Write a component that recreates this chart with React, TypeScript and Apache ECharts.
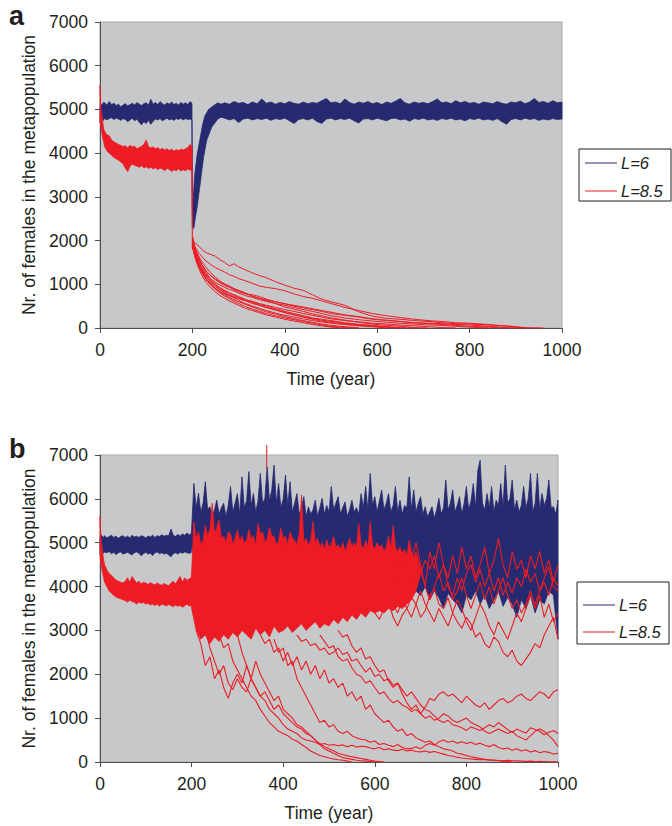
import React, { useEffect, useRef } from 'react';
import * as echarts from 'echarts';

const NAVY = '#262a70';
const RED = '#ed1c24';
const BG = '#c7c8ca';
const FONT = "'Liberation Sans', Arial, sans-serif";
const TXT = '#231f20';

// ---------- shared sample years ----------
const PRE_YEARS = [0, 2, 5, 8, 10, 15, 20, 25, 30, 35, 40, 45, 50, 55, 60, 65, 70, 75, 80, 85, 90, 95, 100, 105, 110, 115, 120, 125, 130, 135, 140, 145, 150, 155, 160, 165, 170, 175, 180, 185, 190, 195, 199];
const X_TICKS = [0, 200, 400, 600, 800, 1000];
const Y_TICKS = [0, 1000, 2000, 3000, 4000, 5000, 6000, 7000];

// ---------- panel a : L=6 (envelope of runs) ----------
const BLUE_A_PRE_UP = [5050, 5100, 5120, 5160, 5150, 5100, 5180, 5110, 5140, 5090, 5120, 5060, 5100, 5130, 5080, 5110, 5140, 5100, 5160, 5120, 5090, 5130, 5150, 5100, 5230, 5120, 5160, 5110, 5180, 5130, 5100, 5150, 5120, 5170, 5110, 5140, 5100, 5160, 5120, 5150, 5110, 5180, 5140];
const BLUE_A_PRE_LOW = [4700, 4760, 4780, 4750, 4800, 4760, 4790, 4810, 4770, 4800, 4780, 4750, 4790, 4770, 4720, 4760, 4800, 4740, 4780, 4700, 4650, 4720, 4680, 4750, 4660, 4730, 4780, 4760, 4790, 4740, 4770, 4800, 4760, 4780, 4750, 4790, 4770, 4800, 4760, 4790, 4770, 4780, 4760];
const BLUE_A_DIP_UP = [[200, 2600], [202, 3000], [205, 3500], [210, 3950], [216, 4300], [222, 4650], [227, 4850], [235, 5000], [245, 5080], [255, 5150], [262, 5120]];
const BLUE_A_DIP_LOW = [[200, 2310], [203, 2280], [206, 2500], [210, 2750], [216, 3230], [224, 3900], [231, 4300], [242, 4600], [255, 4780], [262, 4820]];
const BLUE_A_POST_UP = [
  5150, 5120, 5180, 5140, 5160, 5110, 5170, 5130, 5240, 5140,
  5170, 5120, 5160, 5130, 5180, 5140, 5120, 5170, 5130, 5160,
  5140, 5200, 5250, 5150, 5170, 5130, 5240, 5160, 5120, 5170,
  5140, 5180, 5130, 5160, 5110, 5170, 5140, 5190, 5250, 5150,
  5120, 5170, 5140, 5160, 5130, 5180, 5240, 5150, 5170, 5130,
  5200, 5150, 5180, 5140, 5160, 5120, 5170, 5150, 5130, 5180,
  5140, 5120, 5170, 5150, 5190, 5130, 5170, 5250, 5160, 5180,
  5140, 5200, 5150, 5170];
const BLUE_A_POST_LOW = [
  4800, 4760, 4790, 4700, 4780, 4800, 4760, 4790, 4770, 4800,
  4750, 4790, 4770, 4800, 4740, 4680, 4770, 4790, 4760, 4800,
  4720, 4680, 4780, 4800, 4760, 4790, 4770, 4800, 4740, 4690,
  4780, 4790, 4760, 4800, 4770, 4740, 4790, 4800, 4760, 4780,
  4730, 4790, 4770, 4800, 4760, 4780, 4750, 4790, 4770, 4800,
  4760, 4780, 4740, 4790, 4770, 4800, 4760, 4780, 4750, 4790,
  4720, 4660, 4770, 4790, 4760, 4800, 4770, 4790, 4750, 4780,
  4760, 4790, 4770, 4780];

// ---------- panel a : L=8.5 ----------
const RED_A_PRE_UP = [5550, 5000, 4800, 4550, 4500, 4420, 4400, 4300, 4260, 4230, 4200, 4180, 4150, 4170, 4120, 4180, 4140, 4160, 4100, 4130, 4160, 4200, 4300, 4150, 4120, 4140, 4100, 4130, 4080, 4110, 4070, 4100, 4060, 4090, 4050, 4080, 4060, 4090, 4070, 4100, 4130, 4200, 4150];
const RED_A_PRE_LOW = [4750, 4600, 4400, 4250, 4150, 4050, 4000, 3950, 3900, 3870, 3840, 3800, 3750, 3650, 3580, 3700, 3750, 3720, 3700, 3680, 3710, 3660, 3690, 3650, 3680, 3640, 3670, 3620, 3660, 3640, 3600, 3650, 3630, 3580, 3620, 3600, 3640, 3590, 3620, 3600, 3640, 3610, 3620];
const RED_A_DROP = [200, 2100, 1800]; // year, top, bottom of the collapse at year 200
const RA_YEARS = [200, 203, 206, 210, 215, 220, 225, 230, 240, 250, 260, 270, 280, 290, 300, 315, 330, 345, 360, 380, 400, 420, 440, 460, 480, 500, 530, 560, 590, 620, 650, 680, 710, 740, 770, 800, 840, 880, 920, 960, 1000];
const RED_A_RUNS = [
  [2050, 1980, 1950, 1900, 1860, 1800, 1760, 1720, 1680, 1640, 1560, 1500, 1420, 1470, 1400, 1330, 1260, 1200, 1150, 1060, 980, 910, 860, 760, 660, 600, 520, 370, 270, 220, 200, 170, 150, 120, 100, 90, 70, 50, 10, 0],
  [2000, 1900, 1850, 1780, 1700, 1640, 1580, 1530, 1450, 1380, 1330, 1280, 1220, 1180, 1130, 1080, 1020, 960, 930, 900, 850, 780, 720, 680, 620, 560, 470, 400, 330, 280, 240, 200, 170, 150, 120, 110, 80, 40, 0],
  [1950, 1850, 1750, 1650, 1550, 1450, 1380, 1300, 1200, 1120, 1050, 1000, 960, 900, 860, 800, 720, 680, 620, 560, 480, 430, 380, 320, 280, 230, 180, 130, 90, 60, 40, 10, 0],
  [2100, 1950, 1800, 1650, 1500, 1380, 1290, 1210, 1080, 990, 920, 860, 800, 760, 720, 650, 600, 540, 500, 440, 380, 330, 280, 230, 200, 170, 120, 80, 50, 20, 0],
  [1900, 1780, 1660, 1540, 1400, 1300, 1200, 1120, 1000, 900, 820, 760, 700, 650, 600, 540, 480, 420, 370, 320, 260, 210, 170, 130, 90, 60, 30, 0],
  [2000, 1880, 1760, 1620, 1480, 1370, 1290, 1220, 1120, 1040, 980, 930, 880, 850, 800, 740, 700, 650, 610, 560, 520, 470, 420, 380, 330, 280, 230, 190, 160, 130, 110, 90, 70, 60, 40, 20, 0],
  [1850, 1720, 1600, 1470, 1330, 1220, 1120, 1040, 920, 820, 740, 680, 620, 570, 520, 450, 400, 350, 300, 250, 200, 160, 120, 80, 50, 20, 0],
  [2050, 1920, 1800, 1680, 1560, 1460, 1370, 1300, 1190, 1100, 1030, 970, 930, 880, 830, 780, 760, 720, 660, 600, 560, 500, 460, 420, 380, 330, 290, 250, 200, 170, 150, 120, 110, 100, 80, 70, 40, 10, 0],
  [1950, 1800, 1680, 1560, 1430, 1330, 1240, 1160, 1050, 960, 880, 820, 760, 720, 670, 620, 560, 520, 470, 420, 360, 300, 260, 220, 180, 150, 110, 80, 60, 30, 10, 0],
  [1880, 1740, 1620, 1500, 1380, 1280, 1190, 1100, 980, 880, 800, 730, 670, 610, 560, 490, 430, 380, 330, 280, 230, 190, 150, 110, 70, 40, 10, 0],
  [2000, 1900, 1820, 1720, 1620, 1530, 1450, 1380, 1260, 1160, 1070, 1010, 950, 900, 860, 790, 730, 680, 640, 600, 550, 520, 480, 440, 400, 360, 300, 260, 210, 180, 150, 120, 100, 80, 60, 40, 20, 0],
  [1950, 1820, 1700, 1580, 1450, 1340, 1250, 1170, 1040, 940, 870, 800, 740, 690, 630, 560, 500, 450, 400, 340, 290, 250, 210, 170, 140, 110, 80, 50, 30, 0],
  [1900, 1760, 1640, 1520, 1400, 1290, 1200, 1120, 1000, 900, 830, 780, 740, 700, 680, 640, 610, 560, 520, 470, 420, 380, 330, 290, 250, 210, 170, 140, 110, 90, 70, 50, 30, 10, 0],
  [2080, 1950, 1830, 1700, 1570, 1450, 1340, 1260, 1120, 1000, 910, 850, 800, 750, 700, 650, 580, 520, 470, 410, 350, 300, 250, 200, 160, 130, 90, 60, 40, 20, 0],
];

// ---------- panel b : L=6 ----------
const BLUE_B_PRE_UP = [5100, 5180, 5150, 5120, 5160, 5110, 5140, 5170, 5120, 5150, 5100, 5140, 5160, 5120, 5150, 5110, 5170, 5130, 5150, 5120, 5160, 5140, 5110, 5150, 5130, 5170, 5120, 5160, 5140, 5180, 5150, 5170, 5160, 5310, 5170, 5140, 5190, 5150, 5200, 5170, 5220, 5180, 5200];
const BLUE_B_PRE_LOW = [4750, 4800, 4780, 4760, 4790, 4770, 4800, 4750, 4780, 4730, 4770, 4790, 4740, 4760, 4780, 4750, 4720, 4770, 4790, 4760, 4700, 4750, 4780, 4740, 4760, 4710, 4770, 4790, 4750, 4770, 4740, 4760, 4720, 4680, 4750, 4770, 4740, 4780, 4760, 4790, 4770, 4760, 4770];
const BLUE_B_POST_UP = [ // 200..1000 every 5 years
  5300, 6350, 5800, 6130, 5700, 5900, 6390, 5750, 5820, 5600,
  5750, 5970, 5650, 5800, 5900, 5600, 5850, 6280, 5700, 5900,
  6120, 5650, 6500, 5800, 5950, 6620, 5850, 6120, 5700, 5950,
  6580, 5900, 6000, 6730, 5950, 6200, 6770, 5900, 6350, 5800,
  6000, 6540, 5850, 6390, 5700, 5900, 6120, 5650, 5800, 6050,
  5600, 5820, 5650, 5750, 5970, 5600, 5800, 6010, 5650, 5850,
  5700, 6280, 5750, 5900, 6050, 5650, 5800, 5930, 5600, 5750,
  5970, 5700, 5800, 5650, 6120, 5800, 6280, 5750, 6580, 5850,
  6050, 5700, 5950, 6200, 5750, 5900, 6120, 5700, 5850, 6280,
  5700, 5970, 5650, 5850, 5800, 6500, 5750, 6200, 5700, 5900,
  6050, 5650, 5820, 5600, 5700, 5820, 5550, 5750, 6010, 5650,
  5800, 6430, 5750, 5900, 6200, 5700, 5850, 6050, 5650, 5900,
  6280, 5750, 5950, 6350, 5800, 6650, 6880, 5900, 5750, 6120,
  5800, 6280, 5700, 5970, 5850, 6350, 5800, 6770, 5900, 6000,
  6430, 5750, 5970, 5700, 5850, 6280, 5800, 6000, 6580, 5700,
  5900, 6580, 5750, 6120, 5850, 6000, 6430, 5800, 5820, 5650,
  5970];
const BLUE_B_POST_LOW = [ // 200..1000 every 10 years
  4900, 4500, 4300, 4400, 4200, 4350, 4300, 4250, 4400, 4300,
  4350, 4250, 4400, 4300, 4200, 4350, 4300, 4400, 4250, 4300,
  4350, 4300, 4200, 4350, 4300, 4250, 4400, 4300, 4350, 4250,
  4300, 4350, 4200, 4300, 4250, 4350, 4150, 4300, 4200, 4250,
  4100, 4200, 4050, 4150, 4000, 4100, 3950, 4050, 4100, 3900,
  3800, 4000, 3700, 3900, 3750, 3500, 3850, 3700, 3600, 3400,
  3800, 3700, 3900, 3600, 3800, 3500, 3700, 3900, 3550, 3750,
  3600, 3300, 3700, 3500, 3800, 3400, 3700, 3600, 3900, 3800,
  2800];

// ---------- panel b : L=8.5 ----------
const RED_B_PRE_UP = [5600, 5100, 4850, 4600, 4500, 4380, 4300, 4250, 4200, 4150, 4120, 4100, 4080, 4120, 4200, 4100, 4230, 4150, 4080, 4120, 4060, 4100, 4080, 4050, 4090, 4060, 4040, 4080, 4050, 4030, 4070, 4040, 4020, 4080, 4120, 4060, 4150, 4230, 4100, 4200, 4140, 4180, 4200];
const RED_B_PRE_LOW = [4700, 4550, 4350, 4200, 4100, 4000, 3900, 3850, 3800, 3760, 3740, 3720, 3700, 3680, 3650, 3690, 3660, 3640, 3600, 3650, 3620, 3640, 3600, 3620, 3580, 3600, 3570, 3600, 3550, 3600, 3580, 3560, 3590, 3570, 3540, 3580, 3550, 3570, 3530, 3560, 3600, 3550, 3580];
const RED_B_MASS_UP = [ // 200..700 every 5 years, top of the dense bundle of runs
  4300, 5480, 5100, 5250, 4950, 5050, 5400, 5150, 5300, 5900,
  5200, 5350, 5520, 5100, 5150, 5000, 5250, 5200, 4950, 5100,
  5290, 5050, 5150, 5000, 5050, 5300, 5100, 5150, 4950, 5440,
  5200, 5250, 5000, 5100, 5350, 5150, 5150, 4950, 5050, 5330,
  5100, 5150, 4950, 5250, 5100, 5050, 4950, 5200, 6090, 5000,
  5100, 4950, 5050, 5480, 5000, 5100, 4900, 5000, 4850, 5060,
  4900, 4950, 5140, 4900, 4950, 4850, 5000, 4800, 4950, 5100,
  4900, 5000, 4900, 5440, 4950, 4850, 5050, 4900, 5480, 4950,
  4850, 5000, 4900, 4950, 4800, 4900, 5150, 4850, 5400, 4900,
  4800, 4900, 4750, 4850, 4700, 5060, 4800, 4650, 4800, 4600,
  4400];
const RED_B_MASS_LOW = [ // 200..700 every 10 years, bottom of the dense bundle
  3500, 3000, 2800, 2900, 2700, 2850, 2750, 2900, 2800, 2950,
  2850, 3000, 2900, 2800, 3050, 2900, 3000, 2850, 3100, 2950,
  3000, 3100, 2950, 3050, 3150, 3000, 3100, 3200, 3050, 3150,
  3100, 3250, 3150, 3300, 3200, 3350, 3250, 3400, 3300, 3450,
  3400, 3450, 3400, 3500, 3450, 3550, 3500, 3600, 3700, 3900,
  4300];
// individual runs leaving the bundle, sampled every 10 years from "start"
const RED_B_RUNS = [
  { start: 620, vals: [4300, 4500, 4100, 4400, 4700, 4200, 4500, 4000, 4300, 4600, 4400, 4700, 4200, 4500, 4000, 3800, 4200, 3900, 4300, 4500, 4100, 4400, 4000, 4300, 3900, 4200, 3800, 4100, 3850, 4200, 4000, 4400, 4100, 4300, 3900, 4200, 4450, 4000, 3900] },
  { start: 650, vals: [4400, 4800, 4300, 4600, 5000, 4500, 4000, 4800, 4400, 5000, 4500, 4200, 4700, 4300, 4900, 4400, 4700, 4200, 4500, 4900, 4300, 4600, 5100, 4500, 4200, 4800, 4400, 4600, 4200, 4700, 4400, 4800, 4300, 4600, 4100, 4500] },
  { start: 560, vals: [3800, 3600, 4000, 3700, 3500, 3900, 4200, 3800, 3600, 3400, 3700, 3500, 3300, 3600, 3900, 3600, 3400, 3200, 3500, 3300, 3100, 3400, 3700, 3500, 3200, 3000, 3300, 3600, 3400, 3100, 2900, 3200, 3000, 2800, 3100, 3400, 3200, 3500, 3800, 3600, 3900, 4100, 3800, 4200, 4000] },
  { start: 640, vals: [4000, 4300, 3900, 4200, 3800, 4100, 4400, 4000, 3700, 4000, 4300, 3900, 4100, 3700, 3900, 4200, 3800, 3500, 3800, 4100, 3700, 4000, 3600, 3900, 4200, 3800, 3500, 3700, 3400, 3600, 3900, 3500, 3800, 3300, 3600, 3200, 3400] },
  { start: 600, vals: [3400, 3250, 3500, 3650, 3300, 3100, 3350, 3500, 3750, 3600, 3300, 3450, 3800, 3950, 3600, 3500, 3750, 3400, 3200, 3050, 3300, 3150, 2850, 2950, 2700, 2600, 2850, 2750, 2500, 2400, 2550, 2300, 2200, 2350, 2500, 2700, 2600, 2900, 3100, 3300, 2800] },
  { start: 520, vals: [3000, 2850, 2900, 2650, 2500, 2600, 2350, 2400, 2200, 2050, 2100, 1850, 1700, 1800, 1550, 1350, 1200, 1300, 1100, 1250, 1450, 1400, 1550, 1600, 1500, 1550, 1450, 1350, 1500, 1400, 1300, 1250, 1350, 1200, 1300, 1400, 1450, 1350, 1400, 1500, 1550, 1450, 1400, 1500, 1600, 1550, 1450, 1600, 1650] },
  { start: 480, vals: [2900, 2750, 2600, 2650, 2400, 2300, 2350, 2150, 2000, 1950, 1800, 1850, 1700, 1550, 1600, 1450, 1350, 1400, 1300, 1250, 1150, 1200, 1100, 1000, 1050, 950, 1000, 1100, 1050, 950, 900, 950, 1000, 900, 850, 800, 700, 650, 700, 750, 700, 650, 700, 600, 550, 500, 600, 700, 750, 700, 600, 500, 350] },
  { start: 380, vals: [2800, 2500, 2600, 2200, 2300, 1900, 1700, 1500, 1300, 1100, 900, 950, 800, 850, 700, 650, 700, 600, 550, 520, 500, 450, 480, 400, 420, 380, 350, 400, 330, 300, 310, 350, 300, 380, 420, 380, 460, 500, 450, 480, 430, 460, 420, 450, 400, 430, 380, 350, 400, 330, 300, 320, 270, 300, 250, 280, 230, 260, 210, 240, 220, 180, 200] },
  { start: 300, vals: [2900, 2500, 2200, 1900, 1700, 1500, 1400, 1200, 1100, 1000, 850, 750, 700, 650, 550, 500, 480, 450, 400, 420, 380, 400, 370, 390, 350, 380, 340, 360, 350, 320, 300, 330, 280, 300, 270, 260, 290, 250, 270, 240, 230, 250, 220, 240, 210, 180, 150, 130, 110, 90, 80, 70, 60, 50, 60, 40, 45, 35, 30, 40, 30, 25, 20, 15, 20, 10, 15, 10, 5, 5, 0] },
  { start: 260, vals: [2900, 2600, 2700, 2300, 2100, 1900, 1700, 1500, 1400, 1200, 1050, 900, 800, 700, 650, 600, 520, 480, 400, 330, 250, 200, 150, 120, 90, 70, 50, 40, 20, 0] },
  { start: 210, vals: [3000, 2700, 2200, 2400, 1900, 2100, 1700, 1450, 1800, 2000, 1800, 2200, 1900, 2300, 2000, 1800, 1600, 1400, 1500, 1200, 1100, 1000, 850, 800, 700, 600, 500, 400, 300, 250, 200, 150, 100, 80, 60, 40, 30, 20, 10, 0] },
  { start: 230, vals: [3000, 2600, 2300, 2000, 2200, 1800, 1650, 1900, 1700, 1600, 1900, 1700, 1500, 1600, 1400, 1200, 1300, 1100, 1000, 900, 800, 750, 650, 600, 500, 420, 350, 300, 250, 200, 170, 140, 120, 100, 80, 60, 40, 20, 10, 0] },
  { start: 350, vals: [2900, 2700, 2800, 2500, 2600, 2300, 2500, 2200, 2400, 2100, 2300, 2000, 2200, 1900, 2100, 1800, 1900, 1700, 1800, 1500, 1600, 1400, 1500, 1200, 1300, 1100, 1000, 900, 950, 800, 700, 750, 600, 650, 550, 500, 450, 480, 400, 350, 300, 280, 250, 200, 180, 150, 120, 100, 80, 60, 50, 40, 30, 20, 10, 0] },
  { start: 430, vals: [2900, 2750, 2800, 2650, 2700, 2550, 2600, 2450, 2500, 2600, 2450, 2500, 2300, 2350, 2200, 2050, 2150, 1950, 2000, 1850, 1900, 1750, 1800, 1650, 1500, 1600, 1450, 1300, 1200, 1150, 1050, 950, 900, 950, 850, 820, 780, 720, 800, 760, 720, 780, 850, 800, 900, 820, 740, 680, 750, 700, 660, 780, 740, 700, 620, 680, 720, 650] },
];
const RED_B_SPIKE = [[364, 7230], [364, 6700]];

// ---------- helpers ----------
const grid = (start: number, step: number, n: number) => Array.from({ length: n }, (_, i) => start + step * i);
const zip = (xs: number[], ys: number[]) => ys.map((y, i) => [xs[i], y]).filter((p) => p[0] !== undefined);

function band(name: string, color: string, upper: number[][], lower: number[][], idx: number) {
  return {
    type: 'custom',
    name,
    xAxisIndex: idx,
    yAxisIndex: idx,
    silent: true,
    itemStyle: { color },
    data: [upper[0]],
    renderItem: (_params: any, api: any) => {
      const pts = upper.concat(lower.slice().reverse()).map((p) => api.coord(p));
      return {
        type: 'polygon',
        shape: { points: pts },
        style: { fill: color, stroke: color, lineWidth: 0.8 },
      };
    },
  };
}

function run(name: string, color: string, data: number[][], idx: number, width = 1) {
  return {
    type: 'line',
    name,
    xAxisIndex: idx,
    yAxisIndex: idx,
    data,
    showSymbol: false,
    symbol: 'none',
    silent: true,
    clip: false,
    lineStyle: { color, width },
    itemStyle: { color },
  };
}

function buildOption() {
  const series: any[] = [];
  // panel a
  const blueAUp = zip(PRE_YEARS, BLUE_A_PRE_UP).concat(BLUE_A_DIP_UP, zip(grid(270, 10, 74), BLUE_A_POST_UP));
  const blueALow = zip(PRE_YEARS, BLUE_A_PRE_LOW).concat(BLUE_A_DIP_LOW, zip(grid(270, 10, 74), BLUE_A_POST_LOW));
  series.push(band('L=6', NAVY, blueAUp, blueALow, 0));
  const redAUp = zip(PRE_YEARS, RED_A_PRE_UP).concat([[RED_A_DROP[0], RED_A_DROP[1]]]);
  const redALow = zip(PRE_YEARS, RED_A_PRE_LOW).concat([[RED_A_DROP[0], RED_A_DROP[2]]]);
  series.push(band('L=8.5', RED, redAUp, redALow, 0));
  RED_A_RUNS.forEach((vals) => series.push(run('L=8.5', RED, zip(RA_YEARS, vals), 0, 1)));

  // panel b
  const blueBUp = zip(PRE_YEARS, BLUE_B_PRE_UP).concat(zip(grid(200, 5, 161), BLUE_B_POST_UP));
  const blueBLow = zip(PRE_YEARS, BLUE_B_PRE_LOW).concat(zip(grid(200, 10, 81), BLUE_B_POST_LOW));
  series.push(band('L=6', NAVY, blueBUp, blueBLow, 1));
  const redBUp = zip(PRE_YEARS, RED_B_PRE_UP).concat(zip(grid(200, 5, 101), RED_B_MASS_UP));
  const redBLow = zip(PRE_YEARS, RED_B_PRE_LOW).concat(zip(grid(200, 10, 51), RED_B_MASS_LOW));
  series.push(band('L=8.5', RED, redBUp, redBLow, 1));
  RED_B_RUNS.forEach((r) => series.push(run('L=8.5', RED, zip(grid(r.start, 10, r.vals.length), r.vals), 1, 1.1)));
  series.push(run('L=8.5', RED, RED_B_SPIKE, 1, 1));

  const axisStyle = {
    axisLine: { show: true, lineStyle: { color: '#4d4d4f', width: 1 } },
    axisTick: { show: true, inside: false, length: 5, lineStyle: { color: '#4d4d4f' } },
    splitLine: { show: false },
    nameTextStyle: { fontSize: 17.5, color: TXT, fontFamily: FONT },
  };
  const plain = (v: number) => String(v);
  const xAxis = (gi: number) => ({
    ...axisStyle,
    gridIndex: gi,
    type: 'value',
    min: X_TICKS[0],
    max: X_TICKS[X_TICKS.length - 1],
    interval: X_TICKS[1] - X_TICKS[0],
    name: 'Time (year)',
    nameLocation: 'middle',
    nameGap: 42,
    axisLabel: { fontSize: 17.5, color: TXT, fontFamily: FONT, margin: 13, formatter: plain },
  });
  const yAxis = (gi: number) => ({
    ...axisStyle,
    gridIndex: gi,
    type: 'value',
    min: Y_TICKS[0],
    max: Y_TICKS[Y_TICKS.length - 1],
    interval: Y_TICKS[1] - Y_TICKS[0],
    name: 'Nr. of females in the metapopulation',
    nameLocation: 'middle',
    nameGap: 59,
    nameRotate: 90,
    axisLabel: { fontSize: 17.5, color: TXT, fontFamily: FONT, margin: 12, formatter: plain },
  });

  const legend = (x: number, y: number, w: number, h: number, r1: number, r2: number) => [
    { type: 'rect', shape: { x, y, width: w, height: h }, style: { fill: '#ffffff', stroke: '#231f20', lineWidth: 1 } },
    { type: 'line', shape: { x1: x + 6, y1: r1, x2: x + 38, y2: r1 }, style: { stroke: NAVY, lineWidth: 1 } },
    { type: 'line', shape: { x1: x + 6, y1: r2, x2: x + 38, y2: r2 }, style: { stroke: RED, lineWidth: 1 } },
    { type: 'text', x: x + 42, y: r1, style: { text: 'L=6', fontSize: 16.5, fontStyle: 'italic', fontFamily: FONT, fill: TXT, verticalAlign: 'middle' } },
    { type: 'text', x: x + 42, y: r2, style: { text: 'L=8.5', fontSize: 16.5, fontStyle: 'italic', fontFamily: FONT, fill: TXT, verticalAlign: 'middle' } },
  ];

  return {
    animation: false,
    backgroundColor: '#ffffff',
    grid: [
      { left: 100, top: 22, width: 462, height: 306, show: true, backgroundColor: BG, borderColor: '#a7a9ac', borderWidth: 1 },
      { left: 100, top: 455, width: 458, height: 307, show: true, backgroundColor: BG, borderColor: '#a7a9ac', borderWidth: 1 },
    ],
    xAxis: [xAxis(0), xAxis(1)],
    yAxis: [yAxis(0), yAxis(1)],
    series,
    graphic: [
      { type: 'text', x: 9, y: 16, style: { text: 'a', fontSize: 27, fontWeight: 'bold', fontFamily: FONT, fill: TXT, verticalAlign: 'middle' } },
      { type: 'text', x: 9, y: 449, style: { text: 'b', fontSize: 27, fontWeight: 'bold', fontFamily: FONT, fill: TXT, verticalAlign: 'middle' } },
      ...legend(579, 149, 92, 52, 163, 191),
      ...legend(577, 582, 92, 62, 605, 632),
    ],
  };
}

export default function App() {
  const ref = useRef<HTMLDivElement>(null);
  useEffect(() => {
    if (!ref.current) return;
    const chart = echarts.init(ref.current, null, { renderer: 'svg' });
    chart.setOption(buildOption() as any);
    return () => chart.dispose();
  }, []);
  return <div ref={ref} style={{ position: 'absolute', left: 0, top: 0, width: 672, height: 826, background: '#fff' }} />;
}
